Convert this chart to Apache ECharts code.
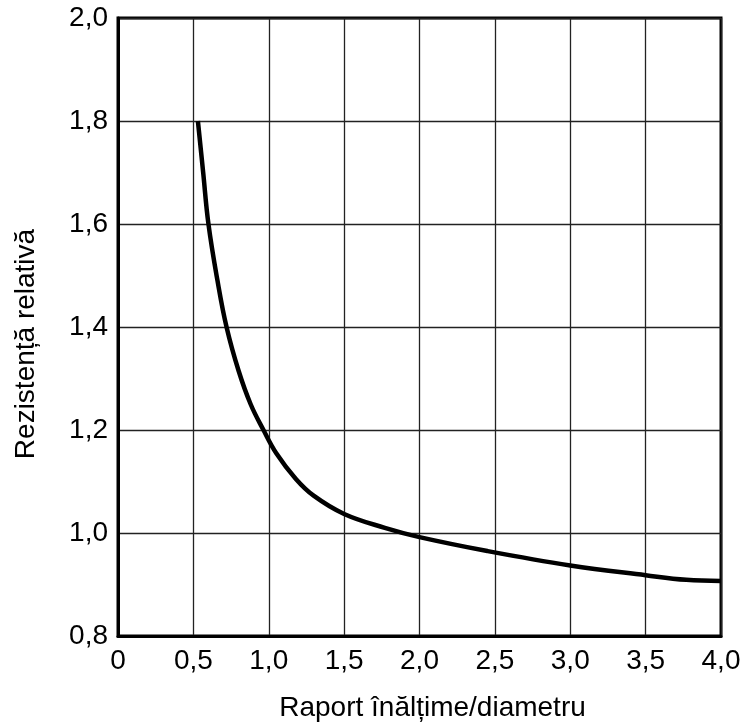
<!DOCTYPE html>
<html>
<head>
<meta charset="utf-8">
<script src="https://cdn.jsdelivr.net/npm/echarts@6/dist/echarts.min.js"></script>
<style>
  html, body { margin: 0; padding: 0; background: #fff; }
  #chart { width: 749px; height: 726px; }
</style>
</head>
<body>
<div id="chart"></div>
<script>
// Height/diameter ratio of the specimen
const ratioValues = [0.53, 0.565, 0.60, 0.66, 0.72, 0.80, 0.88, 0.965, 1.05, 1.18, 1.30, 1.50, 1.77, 2.00, 2.45, 3.00, 3.50, 3.77, 4.00];
// Relative strength at each ratio
const strengthValues = [1.80, 1.70, 1.60, 1.49, 1.40, 1.315, 1.25, 1.20, 1.155, 1.105, 1.072, 1.037, 1.010, 0.992, 0.965, 0.937, 0.918, 0.909, 0.907];

const xTitle = 'Raport înălțime/diametru';
const yTitle = 'Rezistență relativă';

const points = ratioValues.map((x, i) => [x, strengthValues[i]]);

const fmt = v => (v === 0 ? '0' : v.toFixed(1).replace('.', ','));
const font = 'Liberation Sans, Arial, sans-serif';

const chart = echarts.init(document.getElementById('chart'), null, { renderer: 'canvas' });
chart.setOption({
  backgroundColor: '#fff',
  animation: false,
  grid: {
    left: 118, right: 28, top: 18, bottom: 90,
    outerBoundsMode: 'none',
    show: true, borderColor: '#000', borderWidth: 3, backgroundColor: 'transparent'
  },
  xAxis: {
    type: 'value', min: 0, max: 4, interval: 0.5,
    name: xTitle, nameLocation: 'middle', nameGap: 58,
    nameTextStyle: { fontFamily: font, fontSize: 28, color: '#000', padding: [0, 0, 0, 26] },
    axisLine: { show: true, lineStyle: { color: '#000', width: 3 } },
    axisTick: { show: false },
    axisLabel: { formatter: fmt, fontFamily: font, fontSize: 28, color: '#000', margin: 11 },
    splitLine: { show: true, lineStyle: { color: '#222', width: 1.3 } }
  },
  yAxis: {
    type: 'value', min: 0.8, max: 2.0, interval: 0.2,
    name: yTitle, nameLocation: 'middle', nameGap: 78, nameRotate: 90,
    nameTextStyle: { fontFamily: font, fontSize: 28, color: '#000', padding: [0, 34, 0, 0] },
    axisLine: { show: true, lineStyle: { color: '#000', width: 3 } },
    axisTick: { show: false },
    axisLabel: { formatter: fmt, fontFamily: font, fontSize: 28, color: '#000', margin: 10 },
    splitLine: { show: true, lineStyle: { color: '#222', width: 1.3 } }
  },
  series: [{
    type: 'line',
    data: points,
    smooth: 0.4,
    showSymbol: false,
    lineStyle: { color: '#000', width: 4.5 },
    z: 5
  }]
});
</script>
</body>
</html>
